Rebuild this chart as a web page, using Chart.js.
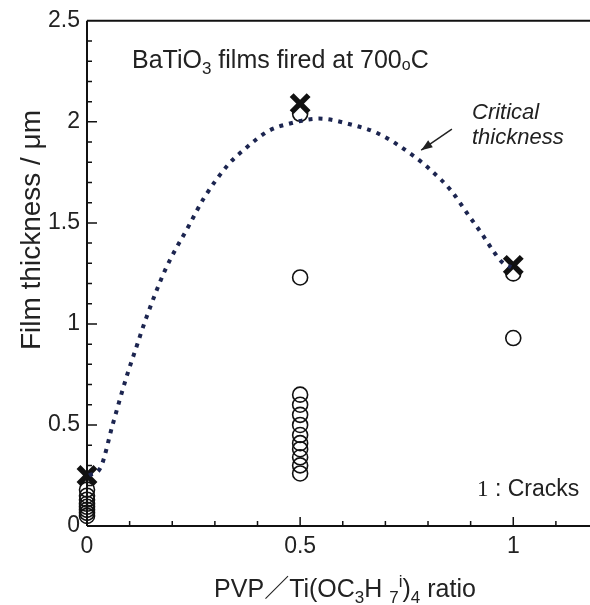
<!DOCTYPE html>
<html>
<head>
<meta charset="utf-8">
<script src="https://cdn.jsdelivr.net/npm/chart.js@4.4.1/dist/chart.umd.min.js"></script>
<style>
  html, body { margin: 0; padding: 0; background: #fff; }
</style>
</head>
<body>
<canvas id="filmChart" width="590" height="605"></canvas>
<script>
// measured films (open circles)
const filmRatio = [0, 0, 0, 0, 0, 0, 0, 0,
                   0.5, 0.5, 0.5, 0.5, 0.5, 0.5, 0.5, 0.5, 0.5, 0.5, 0.5, 0.5,
                   1, 1];
const filmThickness = [0.05, 0.065, 0.08, 0.095, 0.11, 0.13, 0.15, 0.18,
                       0.26, 0.30, 0.34, 0.38, 0.41, 0.45, 0.50, 0.55, 0.60, 0.65, 1.23, 2.04,
                       0.93, 1.25];

// films with cracks (crosses)
const crackRatio = [0, 0.5, 1];
const crackThickness = [0.25, 2.09, 1.29];

// dotted "critical thickness" curve
const curveRatio = [0.005, 0.032, 0.060, 0.093, 0.115, 0.139, 0.184, 0.240, 0.275, 0.332, 0.367,
                    0.426, 0.473, 0.544, 0.619, 0.685, 0.767, 0.807, 0.854, 0.896, 0.925, 0.955, 0.974, 0.995];
const curveThickness = [0.25, 0.29, 0.50, 0.74, 0.88, 1.03, 1.27, 1.49, 1.625, 1.79, 1.86,
                        1.955, 1.99, 2.016, 1.987, 1.94, 1.83, 1.76, 1.66, 1.535, 1.45, 1.355, 1.305, 1.28];

const xTicks = [0, 0.5, 1];
const xTickLabels = ['0', '0.5', '1'];
const yTicks = [0, 0.5, 1, 1.5, 2, 2.5];
const yTickLabels = ['0', '0.5', '1', '1.5', '2', '2.5'];

const SANS = '"Liberation Sans", Arial, "Noto Sans CJK JP", sans-serif';
const INK = '#222';

function pts(xs, ys) { return xs.map((x, i) => ({x: x, y: ys[i]})); }

function labelFor(v, ticks, labels) {
  const i = ticks.findIndex(t => Math.abs(t - v) < 1e-6);
  return i >= 0 ? labels[i] : '';
}

// draw a string made of pieces with own size / vertical offset
function drawRuns(ctx, x, y, parts, align) {
  let total = 0;
  parts.forEach(p => { ctx.font = p.f; total += ctx.measureText(p.t).width; });
  if (align === 'center') x -= total / 2;
  parts.forEach(p => {
    ctx.font = p.f;
    ctx.fillText(p.t, x, y + (p.dy || 0));
    x += ctx.measureText(p.t).width;
  });
}

const framePlugin = {
  id: 'frame',
  beforeDatasetsDraw(chart) {
    const ctx = chart.ctx, a = chart.chartArea;
    const xs = chart.scales.x, ys = chart.scales.y;
    ctx.save();
    ctx.strokeStyle = '#111';
    ctx.lineWidth = 2;
    ctx.beginPath();
    ctx.moveTo(a.left, a.top); ctx.lineTo(a.right, a.top);
    ctx.moveTo(a.left, a.top); ctx.lineTo(a.left, a.bottom);
    ctx.moveTo(a.left, a.bottom); ctx.lineTo(a.right, a.bottom);
    ctx.stroke();
    // inward ticks
    ctx.lineWidth = 1.5;
    ctx.beginPath();
    xs.ticks.forEach(t => {
      const major = Math.round(t.value * 10) % 5 === 0;
      const px = xs.getPixelForValue(t.value);
      if (px <= a.left + 1) return;
      ctx.moveTo(px, a.bottom); ctx.lineTo(px, a.bottom - (major ? 9 : 5));
    });
    ys.ticks.forEach(t => {
      const major = Math.round(t.value * 10) % 5 === 0;
      const py = ys.getPixelForValue(t.value);
      if (py >= a.bottom - 1 || py <= a.top + 1) return;
      ctx.moveTo(a.left, py); ctx.lineTo(a.left + (major ? 10 : 5), py);
    });
    ctx.stroke();
    ctx.restore();
  },
  afterDraw(chart) {
    const ctx = chart.ctx;
    const xs = chart.scales.x, ys = chart.scales.y;
    const big = '25px ' + SANS, sub = '17px ' + SANS;
    ctx.save();
    ctx.fillStyle = INK;
    ctx.textBaseline = 'alphabetic';
    ctx.textAlign = 'left';

    // title inside the plot
    drawRuns(ctx, 132, 68, [
      {t: 'BaTiO', f: big}, {t: '3', f: sub, dy: 6},
      {t: ' films fired at 700', f: big}, {t: 'o', f: '16px ' + SANS, dy: 2}, {t: 'C', f: big}
    ]);

    // annotation
    ctx.font = 'italic 22px ' + SANS;
    ctx.fillText('Critical', 472, 119);
    ctx.fillText('thickness', 472, 144);
    const x1 = xs.getPixelForValue(0.856), y1 = ys.getPixelForValue(1.964);
    const x2 = xs.getPixelForValue(0.784), y2 = ys.getPixelForValue(1.86);
    ctx.strokeStyle = INK; ctx.lineWidth = 1.5;
    ctx.beginPath(); ctx.moveTo(x1, y1); ctx.lineTo(x2, y2); ctx.stroke();
    const ang = Math.atan2(y2 - y1, x2 - x1), hl = 12;
    ctx.beginPath();
    ctx.moveTo(x2, y2);
    ctx.lineTo(x2 - hl * Math.cos(ang - 0.35), y2 - hl * Math.sin(ang - 0.35));
    ctx.lineTo(x2 - hl * Math.cos(ang + 0.35), y2 - hl * Math.sin(ang + 0.35));
    ctx.closePath(); ctx.fill();

    // legend note
    drawRuns(ctx, 477, 496, [
      {t: '1', f: '23px "Liberation Serif", serif'},
      {t: ' : Cracks', f: '23px ' + SANS}
    ]);

    // x axis title
    const xt = '25px ' + SANS, xs2 = '17px ' + SANS;
    drawRuns(ctx, 345, 597, [
      {t: 'PVP', f: xt}, {t: '／', f: xt}, {t: 'Ti(OC', f: xt}, {t: '3', f: xs2, dy: 6},
      {t: 'H ', f: xt}, {t: '7', f: xs2, dy: 6}, {t: 'i', f: xs2, dy: -10},
      {t: ')', f: xt}, {t: '4', f: xs2, dy: 6}, {t: ' ratio', f: xt}
    ], 'center');

    // y axis title
    ctx.translate(40, 230);
    ctx.rotate(-Math.PI / 2);
    ctx.textAlign = 'center';
    ctx.font = '28px ' + SANS;
    ctx.fillText('Film thickness / μm', 0, 0);
    ctx.restore();
  }
};

const chart = new Chart(document.getElementById('filmChart'), {
  type: 'scatter',
  data: {
    datasets: [
      {
        type: 'line',
        data: pts(curveRatio, curveThickness),
        borderColor: '#1c2550',
        borderWidth: 4,
        borderDash: [4, 6],
        pointRadius: 0,
        cubicInterpolationMode: 'monotone',
        fill: false,
        clip: false
      },
      {
        data: pts(filmRatio, filmThickness),
        pointStyle: 'circle',
        pointRadius: 7.5,
        backgroundColor: 'rgba(255,255,255,0)',
        borderColor: '#111',
        borderWidth: 1.6,
        clip: false
      },
      {
        data: pts(crackRatio, crackThickness),
        pointStyle: 'crossRot',
        pointRadius: 12,
        borderColor: '#111',
        borderWidth: 5.5,
        clip: false
      }
    ]
  },
  options: {
    responsive: false,
    devicePixelRatio: 1,
    animation: false,
    layout: { autoPadding: false, padding: { top: 18, right: 0, left: 0, bottom: 0 } },
    plugins: { legend: { display: false }, tooltip: { enabled: false } },
    scales: {
      x: {
        type: 'linear', min: 0, max: 1.18,
        grid: { display: false, drawTicks: false },
        border: { display: false },
        ticks: {
          stepSize: 0.1, includeBounds: false, autoSkip: false, maxRotation: 0,
          padding: 7, color: INK, font: { size: 23, family: SANS },
          callback: v => labelFor(v, xTicks, xTickLabels)
        },
        afterFit: s => { s.height = 79; s.paddingRight = 0; s.paddingLeft = 0; }
      },
      y: {
        min: 0, max: 2.5,
        grid: { display: false, drawTicks: false },
        border: { display: false },
        ticks: {
          stepSize: 0.1, includeBounds: false, autoSkip: false,
          padding: 7, color: INK, font: { size: 23, family: SANS },
          callback: v => labelFor(v, yTicks, yTickLabels)
        },
        afterFit: s => { s.width = 87; }
      }
    }
  },
  plugins: [framePlugin]
});
</script>
</body>
</html>
